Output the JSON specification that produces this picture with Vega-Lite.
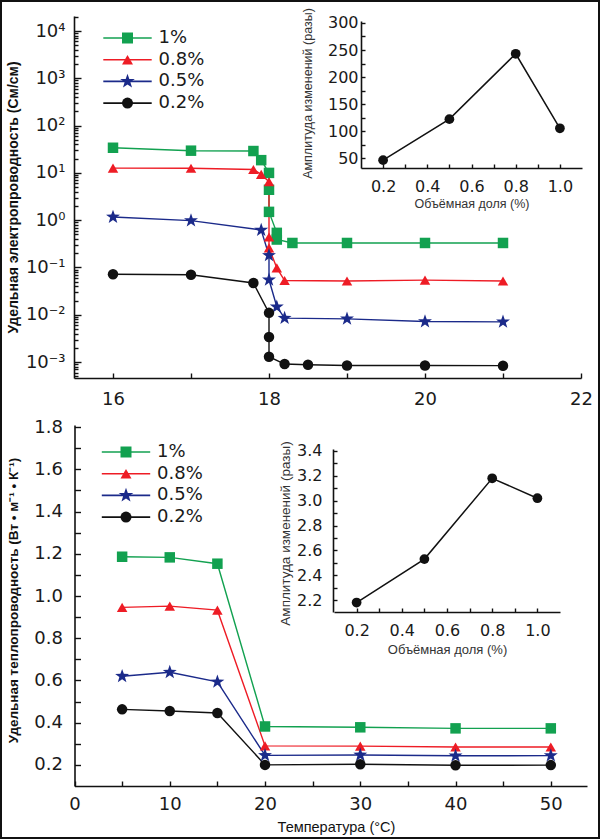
{
  "$schema": "https://vega.github.io/schema/vega-lite/v6.json",
  "width": 600,
  "height": 839,
  "autosize": "none",
  "padding": 0,
  "background": "white",
  "config": {
    "view": {"stroke": "#111", "strokeWidth": 4},
    "axis": {
      "grid": false,
      "domainColor": "#111",
      "domainWidth": 1.6,
      "tickColor": "#111",
      "tickWidth": 1.4,
      "labelColor": "#1a1a1a",
      "labelFont": "DejaVu Sans",
      "titleFont": "Liberation Sans",
      "titleColor": "#111",
      "labelFlush": false,
      "labelOverlap": false,
      "labelBound": false
    }
  },
  "datasets": {
    "cond": [
      {"s": "1%", "t": 16, "v": 34, "i": 1},
      {"s": "1%", "t": 17, "v": 29.5, "i": 2},
      {"s": "1%", "t": 17.8, "v": 29, "i": 3},
      {"s": "1%", "t": 17.9, "v": 18.6, "i": 4},
      {"s": "1%", "t": 18, "v": 10, "i": 5},
      {"s": "1%", "t": 18, "v": 4.4, "i": 6},
      {"s": "1%", "t": 18, "v": 1.5, "i": 7},
      {"s": "1%", "t": 18.1, "v": 0.54, "i": 8},
      {"s": "1%", "t": 18.1, "v": 0.39, "i": 9},
      {"s": "1%", "t": 18.3, "v": 0.33, "i": 10},
      {"s": "1%", "t": 19, "v": 0.33, "i": 11},
      {"s": "1%", "t": 20, "v": 0.33, "i": 12},
      {"s": "1%", "t": 21, "v": 0.33, "i": 13},
      {"s": "0.8%", "t": 16, "v": 12.6, "i": 1},
      {"s": "0.8%", "t": 17, "v": 12.5, "i": 2},
      {"s": "0.8%", "t": 17.8, "v": 11.8, "i": 3},
      {"s": "0.8%", "t": 17.9, "v": 9.3, "i": 4},
      {"s": "0.8%", "t": 18, "v": 6.5, "i": 5},
      {"s": "0.8%", "t": 18, "v": 0.44, "i": 6},
      {"s": "0.8%", "t": 18, "v": 0.26, "i": 7},
      {"s": "0.8%", "t": 18.1, "v": 0.098, "i": 8},
      {"s": "0.8%", "t": 18.2, "v": 0.053, "i": 9},
      {"s": "0.8%", "t": 19, "v": 0.052, "i": 10},
      {"s": "0.8%", "t": 20, "v": 0.054, "i": 11},
      {"s": "0.8%", "t": 21, "v": 0.052, "i": 12},
      {"s": "0.5%", "t": 16, "v": 1.17, "i": 1},
      {"s": "0.5%", "t": 17, "v": 0.98, "i": 2},
      {"s": "0.5%", "t": 17.9, "v": 0.62, "i": 3},
      {"s": "0.5%", "t": 18, "v": 0.18, "i": 4},
      {"s": "0.5%", "t": 18, "v": 0.055, "i": 5},
      {"s": "0.5%", "t": 18.1, "v": 0.0148, "i": 6},
      {"s": "0.5%", "t": 18.2, "v": 0.0085, "i": 7},
      {"s": "0.5%", "t": 19, "v": 0.0082, "i": 8},
      {"s": "0.5%", "t": 20, "v": 0.0072, "i": 9},
      {"s": "0.5%", "t": 21, "v": 0.0071, "i": 10},
      {"s": "0.2%", "t": 16, "v": 0.072, "i": 1},
      {"s": "0.2%", "t": 17, "v": 0.07, "i": 2},
      {"s": "0.2%", "t": 17.8, "v": 0.047, "i": 3},
      {"s": "0.2%", "t": 18, "v": 0.011, "i": 4},
      {"s": "0.2%", "t": 18, "v": 0.0034, "i": 5},
      {"s": "0.2%", "t": 18, "v": 0.0013, "i": 6},
      {"s": "0.2%", "t": 18.2, "v": 0.00091, "i": 7},
      {"s": "0.2%", "t": 18.5, "v": 0.00088, "i": 8},
      {"s": "0.2%", "t": 19, "v": 0.00085, "i": 9},
      {"s": "0.2%", "t": 20, "v": 0.00085, "i": 10},
      {"s": "0.2%", "t": 21, "v": 0.00084, "i": 11}
    ],
    "therm": [
      {"s": "1%", "t": 5, "v": 1.186},
      {"s": "1%", "t": 10, "v": 1.183},
      {"s": "1%", "t": 15, "v": 1.153},
      {"s": "1%", "t": 20, "v": 0.382},
      {"s": "1%", "t": 30, "v": 0.378},
      {"s": "1%", "t": 40, "v": 0.373},
      {"s": "1%", "t": 50, "v": 0.373},
      {"s": "0.8%", "t": 5, "v": 0.946},
      {"s": "0.8%", "t": 10, "v": 0.952},
      {"s": "0.8%", "t": 15, "v": 0.933},
      {"s": "0.8%", "t": 20, "v": 0.29},
      {"s": "0.8%", "t": 30, "v": 0.289},
      {"s": "0.8%", "t": 40, "v": 0.285},
      {"s": "0.8%", "t": 50, "v": 0.285},
      {"s": "0.5%", "t": 5, "v": 0.62},
      {"s": "0.5%", "t": 10, "v": 0.639},
      {"s": "0.5%", "t": 15, "v": 0.593},
      {"s": "0.5%", "t": 20, "v": 0.245},
      {"s": "0.5%", "t": 30, "v": 0.247},
      {"s": "0.5%", "t": 40, "v": 0.243},
      {"s": "0.5%", "t": 50, "v": 0.244},
      {"s": "0.2%", "t": 5, "v": 0.463},
      {"s": "0.2%", "t": 10, "v": 0.455},
      {"s": "0.2%", "t": 15, "v": 0.446},
      {"s": "0.2%", "t": 20, "v": 0.2},
      {"s": "0.2%", "t": 30, "v": 0.203},
      {"s": "0.2%", "t": 40, "v": 0.198},
      {"s": "0.2%", "t": 50, "v": 0.199}
    ],
    "amp1": [
      {"f": 0.2, "a": 46},
      {"f": 0.5, "a": 122},
      {"f": 0.8, "a": 243},
      {"f": 1.0, "a": 105}
    ],
    "amp2": [
      {"f": 0.2, "a": 2.18},
      {"f": 0.5, "a": 2.53},
      {"f": 0.8, "a": 3.18},
      {"f": 1.0, "a": 3.02}
    ]
  },
  "resolve": {
    "scale": {"x": "independent", "y": "independent"},
    "legend": {"color": "independent", "shape": "independent"}
  },
  "layer": [
    {
      "data": {"name": "cond"},
      "mark": {"type": "line", "strokeWidth": 1.4},
      "encoding": {
        "x": {
          "field": "t", "type": "quantitative",
          "scale": {"domain": [15.5, 22], "range": [74, 581], "nice": false, "zero": false},
          "axis": {"orient": "bottom", "offset": -461, "values": [16, 17, 18, 19, 20, 21, 22],
            "labelExpr": "datum.value % 2 == 0 ? datum.label : ''",
            "tickSize": -5, "labelPadding": 17, "labelFontSize": 18, "title": null}
        },
        "y": {
          "field": "v", "type": "quantitative",
          "scale": {"type": "log", "domain": [0.000461, 20760], "range": [378, 16], "nice": false},
          "axis": {"orient": "left", "offset": -74,
            "values": [0.001, 0.01, 0.1, 1, 10, 100, 1000, 10000],
            "labelExpr": "['10⁻³','10⁻²','10⁻¹','10⁰','10¹','10²','10³','10⁴'][round(log(datum.value)/LN10)+3]",
            "tickSize": -7, "labelPadding": 16, "labelFontSize": 18,
            "title": "Удельная электропроводность (См/см)", "titleFontWeight": "bold", "titleFontSize": 14,
            "titleX": -61, "titleY": 197, "titleAngle": -90, "titleAlign": "center", "titleBaseline": "middle"}
        },
        "color": {
          "field": "s", "type": "nominal",
          "scale": {"domain": ["1%", "0.8%", "0.5%", "0.2%"], "range": ["#12a150", "#ee1c25", "#1b2a8a", "#111111"]},
          "legend": {"orient": "none", "legendX": 103.5, "legendY": 29, "title": null, "padding": 0,
            "symbolType": "M-4.4,0H4.4", "symbolSize": 121, "symbolStrokeWidth": 1.6, "symbolOffset": 15,
            "labelOffset": 22, "rowPadding": 3.7, "labelFontSize": 18, "labelFont": "DejaVu Sans", "labelColor": "#1a1a1a"}
        },
        "order": {"field": "i", "type": "quantitative"}
      }
    },
    {
      "data": {"name": "cond"},
      "mark": {"type": "point", "filled": true, "opacity": 1, "size": 110, "strokeWidth": 0},
      "encoding": {
        "x": {
          "field": "t", "type": "quantitative",
          "scale": {"domain": [15.5, 22], "range": [74, 581], "nice": false, "zero": false},
          "axis": null
        },
        "y": {
          "field": "v", "type": "quantitative",
          "scale": {"type": "log", "domain": [0.000461, 20760], "range": [378, 16], "nice": false},
          "axis": {"orient": "left", "offset": -74, "labels": false, "domain": false, "tickSize": -4, "title": null,
            "values": [0.0005, 0.0006, 0.0007, 0.0008, 0.0009,
              0.002, 0.003, 0.004, 0.005, 0.006, 0.007, 0.008, 0.009,
              0.02, 0.03, 0.04, 0.05, 0.06, 0.07, 0.08, 0.09,
              0.2, 0.3, 0.4, 0.5, 0.6, 0.7, 0.8, 0.9,
              2, 3, 4, 5, 6, 7, 8, 9,
              20, 30, 40, 50, 60, 70, 80, 90,
              200, 300, 400, 500, 600, 700, 800, 900,
              2000, 3000, 4000, 5000, 6000, 7000, 8000, 9000, 20000]}
        },
        "color": {
          "field": "s", "type": "nominal",
          "scale": {"domain": ["1%", "0.8%", "0.5%", "0.2%"], "range": ["#12a150", "#ee1c25", "#1b2a8a", "#111111"]},
          "legend": {"orient": "none", "legendX": 103.5, "legendY": 29, "title": null, "padding": 0,
            "symbolSize": 121, "symbolStrokeWidth": 0, "symbolOffset": 15,
            "labelOffset": 22, "rowPadding": 3.7, "labelFontSize": 18, "labelFont": "DejaVu Sans", "labelOpacity": 0}
        },
        "shape": {
          "field": "s", "type": "nominal",
          "scale": {"domain": ["1%", "0.8%", "0.5%", "0.2%"],
            "range": ["square", "triangle-up", "M0,-1.4L0.33,-0.45L1.33,-0.43L0.53,0.17L0.82,1.13L0,0.56L-0.82,1.13L-0.53,0.17L-1.33,-0.43L-0.33,-0.45Z", "circle"]},
          "legend": {"orient": "none", "legendX": 103.5, "legendY": 29, "title": null, "padding": 0,
            "symbolSize": 121, "symbolStrokeWidth": 0, "symbolOffset": 15,
            "labelOffset": 22, "rowPadding": 3.7, "labelFontSize": 18, "labelFont": "DejaVu Sans", "labelOpacity": 0}
        }
      }
    },
    {
      "data": {"name": "amp1"},
      "mark": {"type": "line", "color": "#111", "strokeWidth": 1.5},
      "encoding": {
        "x": {
          "field": "f", "type": "quantitative",
          "scale": {"domain": [0.1, 1.1], "range": [361, 582], "nice": false, "zero": false},
          "axis": {"orient": "bottom", "offset": -671, "values": [0.2, 0.3, 0.4, 0.5, 0.6, 0.7, 0.8, 0.9, 1.0],
            "labelExpr": "round(datum.value*10) % 2 == 0 ? format(datum.value, '.1f') : ''",
            "tickSize": -4, "labelPadding": 14, "labelFontSize": 16,
            "title": "Объёмная доля (%)", "titleFontSize": 12.5, "titleFontWeight": "normal", "titleColor": "#333",
            "titleY": 35, "titleBaseline": "middle"}
        },
        "y": {
          "field": "a", "type": "quantitative",
          "scale": {"domain": [31.5, 303.7], "range": [168, 21], "nice": false, "zero": false},
          "axis": {"orient": "left", "offset": -361, "values": [50, 75, 100, 125, 150, 175, 200, 225, 250, 275, 300],
            "labelExpr": "datum.value % 50 == 0 ? datum.label : ''",
            "tickSize": -4, "labelPadding": 7, "labelFontSize": 16,
            "title": "Амплитуда изменений (разы)", "titleFontSize": 12.5, "titleFontWeight": "normal", "titleColor": "#333",
            "titleX": -54, "titleY": 93, "titleAngle": -90, "titleAlign": "center", "titleBaseline": "middle"}
        }
      }
    },
    {
      "data": {"name": "amp1"},
      "mark": {"type": "point", "filled": true, "opacity": 1, "color": "#111", "size": 95, "strokeWidth": 0},
      "encoding": {
        "x": {"field": "f", "type": "quantitative",
          "scale": {"domain": [0.1, 1.1], "range": [361, 582], "nice": false, "zero": false}, "axis": null},
        "y": {"field": "a", "type": "quantitative",
          "scale": {"domain": [31.5, 303.7], "range": [168, 21], "nice": false, "zero": false}, "axis": null}
      }
    },
    {
      "data": {"name": "therm"},
      "mark": {"type": "line", "strokeWidth": 1.4},
      "encoding": {
        "x": {
          "field": "t", "type": "quantitative",
          "scale": {"domain": [0, 53.8], "range": [74.5, 587], "nice": false, "zero": false},
          "axis": {"orient": "bottom", "offset": -53, "values": [0, 5, 10, 15, 20, 25, 30, 35, 40, 45, 50],
            "labelExpr": "datum.value % 10 == 0 ? datum.label : ''",
            "tickSize": -5, "labelPadding": 14, "labelFontSize": 18,
            "title": "Температура (°C)", "titleFontSize": 14.5, "titleFontWeight": "normal",
            "titleX": 336, "titleY": 41, "titleAlign": "center", "titleBaseline": "middle"}
        },
        "y": {
          "field": "v", "type": "quantitative",
          "scale": {"domain": [0.1, 1.81], "range": [786, 425], "nice": false, "zero": false},
          "axis": {"orient": "left", "offset": -74.5,
            "values": [0.2, 0.3, 0.4, 0.5, 0.6, 0.7, 0.8, 0.9, 1.0, 1.1, 1.2, 1.3, 1.4, 1.5, 1.6, 1.7, 1.8],
            "labelExpr": "round(datum.value*10) % 2 == 0 ? format(datum.value, '.1f') : ''",
            "tickSize": -6, "labelPadding": 18, "labelFontSize": 18,
            "title": "Удельная теплопроводность (Вт • м⁻¹ • К⁻¹)", "titleFontWeight": "bold", "titleFontSize": 13.5,
            "titleX": -61.5, "titleY": 600, "titleAngle": -90, "titleAlign": "center", "titleBaseline": "middle"}
        },
        "color": {
          "field": "s", "type": "nominal",
          "scale": {"domain": ["1%", "0.8%", "0.5%", "0.2%"], "range": ["#12a150", "#ee1c25", "#1b2a8a", "#111111"]},
          "legend": {"orient": "none", "legendX": 102, "legendY": 443, "title": null, "padding": 0,
            "symbolType": "M-4.4,0H4.4", "symbolSize": 121, "symbolStrokeWidth": 1.6, "symbolOffset": 15,
            "labelOffset": 22, "rowPadding": 3.7, "labelFontSize": 18, "labelFont": "DejaVu Sans", "labelColor": "#1a1a1a"}
        }
      }
    },
    {
      "data": {"name": "therm"},
      "mark": {"type": "point", "filled": true, "opacity": 1, "size": 110, "strokeWidth": 0},
      "encoding": {
        "x": {"field": "t", "type": "quantitative",
          "scale": {"domain": [0, 53.8], "range": [74.5, 587], "nice": false, "zero": false}, "axis": null},
        "y": {"field": "v", "type": "quantitative",
          "scale": {"domain": [0.1, 1.81], "range": [786, 425], "nice": false, "zero": false}, "axis": null},
        "color": {
          "field": "s", "type": "nominal",
          "scale": {"domain": ["1%", "0.8%", "0.5%", "0.2%"], "range": ["#12a150", "#ee1c25", "#1b2a8a", "#111111"]},
          "legend": {"orient": "none", "legendX": 102, "legendY": 443, "title": null, "padding": 0,
            "symbolSize": 121, "symbolStrokeWidth": 0, "symbolOffset": 15,
            "labelOffset": 22, "rowPadding": 3.7, "labelFontSize": 18, "labelFont": "DejaVu Sans", "labelOpacity": 0}
        },
        "shape": {
          "field": "s", "type": "nominal",
          "scale": {"domain": ["1%", "0.8%", "0.5%", "0.2%"],
            "range": ["square", "triangle-up", "M0,-1.4L0.33,-0.45L1.33,-0.43L0.53,0.17L0.82,1.13L0,0.56L-0.82,1.13L-0.53,0.17L-1.33,-0.43L-0.33,-0.45Z", "circle"]},
          "legend": {"orient": "none", "legendX": 102, "legendY": 443, "title": null, "padding": 0,
            "symbolSize": 121, "symbolStrokeWidth": 0, "symbolOffset": 15,
            "labelOffset": 22, "rowPadding": 3.7, "labelFontSize": 18, "labelFont": "DejaVu Sans", "labelOpacity": 0}
        }
      }
    },
    {
      "data": {"name": "amp2"},
      "mark": {"type": "line", "color": "#111", "strokeWidth": 1.5},
      "encoding": {
        "x": {
          "field": "f", "type": "quantitative",
          "scale": {"domain": [0.1, 1.1], "range": [334, 560], "nice": false, "zero": false},
          "axis": {"orient": "bottom", "offset": -227, "values": [0.2, 0.3, 0.4, 0.5, 0.6, 0.7, 0.8, 0.9, 1.0],
            "labelExpr": "round(datum.value*10) % 2 == 0 ? format(datum.value, '.1f') : ''",
            "tickSize": -4, "labelPadding": 14, "labelFontSize": 16,
            "title": "Объёмная доля (%)", "titleFontSize": 13, "titleFontWeight": "normal", "titleColor": "#333",
            "titleY": 37, "titleBaseline": "middle"}
        },
        "y": {
          "field": "a", "type": "quantitative",
          "scale": {"domain": [2.104, 3.416], "range": [612, 449], "nice": false, "zero": false},
          "axis": {"orient": "left", "offset": -333,
            "values": [2.2, 2.3, 2.4, 2.5, 2.6, 2.7, 2.8, 2.9, 3.0, 3.1, 3.2, 3.3, 3.4],
            "labelExpr": "round(datum.value*10) % 2 == 0 ? format(datum.value, '.1f') : ''",
            "tickSize": -4, "labelPadding": 15, "labelFontSize": 16,
            "title": "Амплитуда изменений (разы)", "titleFontSize": 13.5, "titleFontWeight": "normal", "titleColor": "#333",
            "titleX": -48, "titleY": 533, "titleAngle": -90, "titleAlign": "center", "titleBaseline": "middle"}
        }
      }
    },
    {
      "data": {"name": "amp2"},
      "mark": {"type": "point", "filled": true, "opacity": 1, "color": "#111", "size": 95, "strokeWidth": 0},
      "encoding": {
        "x": {"field": "f", "type": "quantitative",
          "scale": {"domain": [0.1, 1.1], "range": [334, 560], "nice": false, "zero": false}, "axis": null},
        "y": {"field": "a", "type": "quantitative",
          "scale": {"domain": [2.104, 3.416], "range": [612, 449], "nice": false, "zero": false}, "axis": null}
      }
    }
  ]
}
